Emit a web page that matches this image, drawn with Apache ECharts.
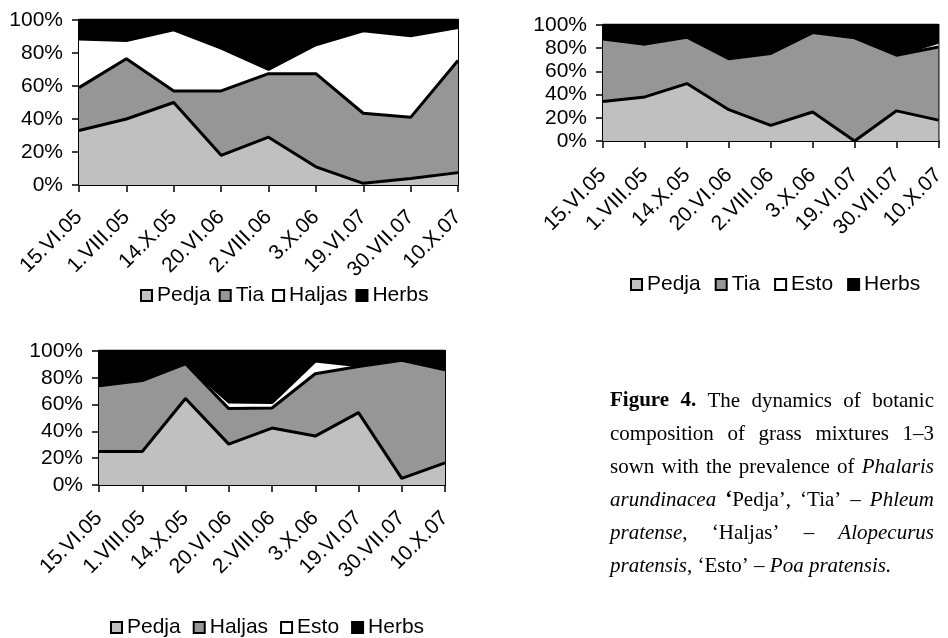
<!DOCTYPE html>
<html><head><meta charset="utf-8">
<script src="https://cdn.jsdelivr.net/npm/echarts@6/dist/echarts.min.js"></script>
<style>html,body{margin:0;padding:0;background:#fff}#c{width:948px;height:638px}</style>
</head><body><div id="c"></div>
<script>
// ---- data ----
const dates = ['15.VI.05','1.VIII.05','14.X.05','20.VI.06','2.VIII.06','3.X.06','19.VI.07','30.VII.07','10.X.07'];
const yTickLabels = ['0%','20%','40%','60%','80%','100%'];
// mixture 1
const m1Pedja  = [33, 40, 50, 18, 29, 11, 1, 4, 7.5];
const m1Tia    = [26, 36.5, 7, 39, 38.5, 56.5, 42.5, 37, 68];
const m1Haljas = [29.5, 11, 37, 26, 2.5, 17.5, 50, 49.5, 20];
const m1Herbs  = [11.5, 12.5, 6, 17, 30, 15, 6.5, 9.5, 4.5];
// mixture 2
const m2Pedja = [34, 38, 49.5, 27, 13.5, 25, 0, 26, 18];
const m2Tia   = [54, 45.5, 40, 44, 62, 68.5, 89, 48, 63];
const m2Esto  = [0, 0, 0, 0, 0, 0, 0, 0, 4];
const m2Herbs = [12, 16.5, 10.5, 29, 24.5, 6.5, 11, 26, 15];
// mixture 3
const m3Pedja  = [25, 25, 64.5, 30.5, 42.5, 36.5, 54, 5, 16.5];
const m3Haljas = [49, 53, 26, 26.5, 15, 46.5, 34.5, 88, 69.5];
const m3Esto   = [0, 0, 0, 5, 4, 9.5, 0.5, 0, 0];
const m3Herbs  = [26, 22, 9.5, 38, 38.5, 7.5, 11, 7, 14];
// caption
const captionLines = [
  '**Figure 4.** The dynamics of botanic',
  'composition of grass mixtures 1–3',
  'sown with the prevalence of _Phalaris_',
  '_arundinacea_ **‘**Pedja’, ‘Tia’ – _Phleum_',
  '_pratense_, ‘Haljas’ – _Alopecurus_',
  '_pratensis_, ‘Esto’ – _Poa pratensis._'
];

// ---- styles ----
const SANS = '"Liberation Sans", Arial, sans-serif';
const SERIF = '"Liberation Serif", "Times New Roman", serif';
const FS = 21;
const C_LIGHT = '#c0c0c0', C_MID = '#969696', C_WHITE = '#ffffff', C_BLACK = '#000000';

const grids = [
  {left: 79, top: 20, width: 379, height: 165},
  {left: 603, top: 25, width: 344, height: 116},
  {left: 99, top: 351, width: 346, height: 134}
].map(g => Object.assign(g, {show: true, borderColor: '#000', borderWidth: 2, backgroundColor: 'transparent', containLabel: false}));
const xLabelMargins = [29, 31, 30];

const xAxes = grids.map((g, i) => ({
  type: 'category', gridIndex: i, data: dates, boundaryGap: false,
  axisLine: {lineStyle: {color: '#000', width: 2}},
  axisTick: {show: true, length: 7, lineStyle: {color: '#000', width: 1.5}},
  axisLabel: {rotate: 45, interval: 0, fontSize: FS, color: '#000', fontFamily: SANS, margin: xLabelMargins[i]},
  splitLine: {show: false}
}));
const yAxes = grids.map((g, i) => ({
  type: 'value', gridIndex: i, min: 0, max: 100, interval: 20,
  axisLine: {show: true, lineStyle: {color: '#000', width: 2}},
  axisTick: {show: true, length: 7, lineStyle: {color: '#000', width: 1.5}},
  axisLabel: {fontSize: FS, color: '#000', fontFamily: SANS, margin: 16,
    formatter: v => yTickLabels[Math.round(v / 20)]},
  splitLine: {show: false}
}));

function area(name, data, color, idx, z) {
  return {
    type: 'line', name, data, xAxisIndex: idx, yAxisIndex: idx, stack: 's' + idx,
    showSymbol: false, symbol: 'none', z,
    lineStyle: {color: '#000', width: 3},
    itemStyle: {color},
    areaStyle: {color, opacity: 1},
    emphasis: {disabled: true}
  };
}
const series = [
  area('Pedja', m1Pedja, C_LIGHT, 0, 9), area('Tia', m1Tia, C_MID, 0, 8),
  area('Haljas', m1Haljas, C_WHITE, 0, 7), area('Herbs', m1Herbs, C_BLACK, 0, 6),
  area('Pedja', m2Pedja, C_LIGHT, 1, 9), area('Tia', m2Tia, C_MID, 1, 8),
  area('Esto', m2Esto, C_WHITE, 1, 7), area('Herbs', m2Herbs, C_BLACK, 1, 6),
  area('Pedja', m3Pedja, C_LIGHT, 2, 9), area('Haljas', m3Haljas, C_MID, 2, 8),
  area('Esto', m3Esto, C_WHITE, 2, 7), area('Herbs', m3Herbs, C_BLACK, 2, 6)
];

function legend(items, left, top, gap) {
  return {
    left, top, orient: 'horizontal', icon: 'rect', itemWidth: 11, itemHeight: 11, itemGap: gap,
    selectedMode: false, padding: 0,
    textStyle: {fontSize: FS, color: '#000', fontFamily: SANS},
    data: items.map(([n, c]) => ({name: n, icon: 'rect', itemStyle: {color: c, borderColor: '#000', borderWidth: 2}, lineStyle: {width: 0}}))
  };
}
const legends = [
  legend([['Pedja', C_LIGHT], ['Tia', C_MID], ['Haljas', C_WHITE], ['Herbs', C_BLACK]], 140, 285, 8),
  legend([['Pedja', C_LIGHT], ['Tia', C_MID], ['Esto', C_WHITE], ['Herbs', C_BLACK]], 630, 274, 14),
  legend([['Pedja', C_LIGHT], ['Haljas', C_MID], ['Esto', C_WHITE], ['Herbs', C_BLACK]], 110, 617, 12)
];

// ---- caption (justified, word by word) ----
const CAP_FS = 21, CAP_LEFT = 610, CAP_RIGHT = 934, CAP_TOP = 401, CAP_LH = 33;
const mctx = document.createElement('canvas').getContext('2d');
function capFont(b, it) { return (it ? 'italic ' : '') + (b ? 'bold ' : '') + CAP_FS + 'px ' + SERIF; }
function parseLine(s) {
  const words = []; let cur = []; let run = ''; let b = false, it = false;
  const flush = () => { if (run) { cur.push({t: run, b, it}); run = ''; } };
  for (let i = 0; i < s.length; i++) {
    if (s.startsWith('**', i)) { flush(); b = !b; i++; continue; }
    if (s[i] === '_') { flush(); it = !it; continue; }
    if (s[i] === ' ') { flush(); if (cur.length) words.push(cur); cur = []; continue; }
    run += s[i];
  }
  flush(); if (cur.length) words.push(cur);
  return words;
}
const graphics = [];
captionLines.forEach((line, li) => {
  const words = parseLine(line);
  const widths = words.map(w => w.reduce((acc, r) => { mctx.font = capFont(r.b, r.it); return acc + mctx.measureText(r.t).width; }, 0));
  const total = widths.reduce((a, b) => a + b, 0);
  mctx.font = capFont(false, false);
  const spaceW = mctx.measureText(' ').width;
  const last = li === captionLines.length - 1;
  const gap = last ? spaceW : (CAP_RIGHT - CAP_LEFT - total) / (words.length - 1);
  let x = CAP_LEFT;
  const y = CAP_TOP + li * CAP_LH;
  words.forEach((w) => {
    w.forEach(r => {
      mctx.font = capFont(r.b, r.it);
      graphics.push({type: 'text', x, y, silent: true,
        style: {text: r.t, font: capFont(r.b, r.it), fill: '#000', textAlign: 'left', textVerticalAlign: 'middle'}});
      x += mctx.measureText(r.t).width;
    });
    x += gap;
  });
});

const chart = echarts.init(document.getElementById('c'), null, {renderer: 'canvas'});
chart.setOption({
  animation: false,
  backgroundColor: '#fff',
  textStyle: {fontFamily: SANS},
  grid: grids, xAxis: xAxes, yAxis: yAxes, series, legend: legends,
  graphic: graphics
});
</script></body></html>
